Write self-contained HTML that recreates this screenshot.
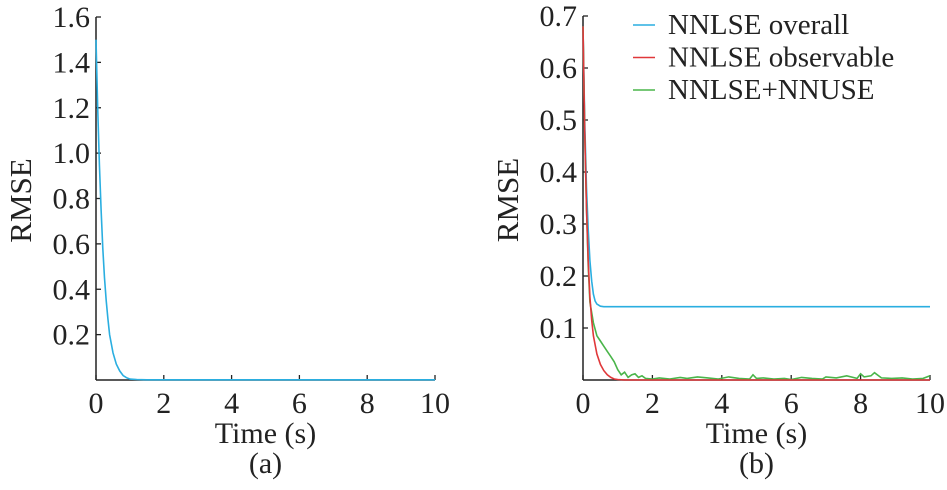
<!DOCTYPE html>
<html><head><meta charset="utf-8"><style>
html,body{margin:0;padding:0;background:#fff;}
svg{display:block;}
text{font-family:"Liberation Serif","DejaVu Serif",serif;}
</style></head><body>
<svg width="947" height="490" viewBox="0 0 947 490" font-family="Liberation Serif, serif">
<g id="pa"></g>
<g id="pb"></g>
</svg>
<script>
const NS="http://www.w3.org/2000/svg";
// Panel (a) data
const aTime=[0,0.05,0.1,0.15,0.2,0.25,0.3,0.35,0.4,0.5,0.6,0.7,0.8,0.9,1.0,1.2,1.5,2,4,6,8,10];
const aRmse=[1.5,1.2,0.95,0.75,0.58,0.45,0.35,0.27,0.2,0.12,0.07,0.04,0.02,0.01,0.004,0.002,0.001,0.001,0.001,0.001,0.001,0.001];
const aYTicks=[0.2,0.4,0.6,0.8,1.0,1.2,1.4,1.6];
const xTicks=[0,2,4,6,8,10];
// Panel (b) data
const bTimeBlue=[0,0.05,0.1,0.15,0.2,0.25,0.3,0.35,0.4,0.5,0.6,0.8,1,2,4,6,8,10];
const bBlue=[0.68,0.5,0.37,0.29,0.23,0.19,0.165,0.152,0.146,0.142,0.141,0.141,0.141,0.141,0.141,0.141,0.141,0.141];
const bTimeRed=[0,0.05,0.1,0.15,0.2,0.25,0.3,0.4,0.5,0.6,0.7,0.8,0.9,1.0,1.2,2,4,6,8,10];
const bRed=[0.68,0.48,0.33,0.23,0.16,0.115,0.085,0.05,0.03,0.018,0.01,0.005,0.002,0.001,0,0,0,0,0,0];
const bTimeGreen=[0,0.05,0.1,0.15,0.2,0.3,0.4,0.5,0.6,0.7,0.8,0.9,1.0,1.1,1.2,1.3,1.4,1.5,1.6,1.7,1.8,2.0,2.2,2.5,2.8,3.0,3.3,3.6,3.9,4.2,4.5,4.8,4.9,5.0,5.2,5.5,5.8,6.0,6.3,6.6,6.9,7.0,7.3,7.6,7.9,8.0,8.1,8.3,8.4,8.6,8.9,9.2,9.5,9.8,10];
const bGreen=[0.68,0.48,0.33,0.22,0.15,0.11,0.085,0.075,0.065,0.055,0.045,0.035,0.02,0.01,0.015,0.005,0.01,0.012,0.005,0.008,0.003,0.002,0.004,0.002,0.005,0.003,0.006,0.004,0.002,0.006,0.003,0.002,0.01,0.003,0.004,0.002,0.003,0.001,0.005,0.003,0.002,0.006,0.004,0.008,0.003,0.012,0.006,0.008,0.014,0.004,0.003,0.004,0.002,0.003,0.008];
const bYTicks=[0.1,0.2,0.3,0.4,0.5,0.6,0.7];
const legendLabels=["NNLSE overall","NNLSE observable","NNLSE+NNUSE"];
const colors=["#2aaee0","#e0383a","#4ab54a"];
const FF="Liberation Serif, DejaVu Serif, serif";

function mk(tag,attrs,parent,text){const e=document.createElementNS(NS,tag);for(const k in attrs)e.setAttribute(k,attrs[k]);if(tag==="text")e.setAttribute("font-family",FF);if(text!==undefined)e.textContent=text;parent.appendChild(e);return e;}

function axes(g,x0,x1,y0,ymax,yTop,yTicks,dec,label,sub){
  const sx=v=>x0+(x1-x0)*v/10;
  const sy=v=>y0-(y0-yTop)*v/ymax;
  let e=mk("line",{x1:x0,y1:yTop,x2:x0,y2:y0,stroke:"#222","stroke-width":1.5},g);
  
  e=mk("line",{x1:x0,y1:y0,x2:x1,y2:y0,stroke:"#222","stroke-width":1.5},g);
  
  yTicks.forEach(v=>{
    const y=sy(v);
    mk("line",{x1:x0,y1:y,x2:x0+5,y2:y,stroke:"#222","stroke-width":1.3},g);
    const t=mk("text",{x:x0-6,y:y+10,"text-anchor":"end","font-size":30,fill:"#222"},g,v.toFixed(dec));
    
  });
  xTicks.forEach(v=>{
    const x=sx(v);
    mk("line",{x1:x,y1:y0,x2:x,y2:y0-5,stroke:"#222","stroke-width":1.3},g);
    const t=mk("text",{x:x,y:y0+33,"text-anchor":"middle","font-size":30,fill:"#222"},g,String(v));
    
  });
  let t=mk("text",{x:(x0+x1)/2,y:y0+63,"text-anchor":"middle","font-size":30,fill:"#222"},g,"Time (s)");
  
  t=mk("text",{x:(x0+x1)/2,y:y0+93,"text-anchor":"middle","font-size":30,fill:"#222"},g,sub);
  
  t=mk("text",{x:0,y:0,"text-anchor":"middle","font-size":31,fill:"#222",transform:`translate(${x0-65},${(yTop+y0)/2+2}) rotate(-90)`},g,label);
  
  return {sx,sy};
}
function line(g,s,xs,ys,color,name){
  const d=xs.map((x,i)=>(i?"L":"M")+s.sx(x).toFixed(1)+","+s.sy(ys[i]).toFixed(1)).join("");
  const p=mk("path",{d:d,fill:"none",stroke:color,"stroke-width":1.6},g);
  
  
}
const ga=document.getElementById("pa");
const sa=axes(ga,96,435,380,1.6,17,aYTicks,1,"RMSE","(a)");
line(ga,sa,aTime,aRmse,colors[0],"rmse-line");
const gb=document.getElementById("pb");
const sb=axes(gb,583,930,380,0.7,16,bYTicks,1,"RMSE","(b)");
line(gb,sb,bTimeBlue,bBlue,colors[0],"nnlse-overall-line");
line(gb,sb,bTimeGreen,bGreen,colors[2],"nnlse-nnuse-line");
line(gb,sb,bTimeRed,bRed,colors[1],"nnlse-observable-line");
legendLabels.forEach((lab,i)=>{
  const y=25+i*32.5;
  const gi=mk("g",{},gb);
  
  
  mk("line",{x1:633,y1:y,x2:655,y2:y,stroke:colors[i],"stroke-width":1.6},gi);
  mk("text",{x:668,y:y+9,"font-size":29,fill:"#222"},gi,lab);
});
</script>
</body></html>
